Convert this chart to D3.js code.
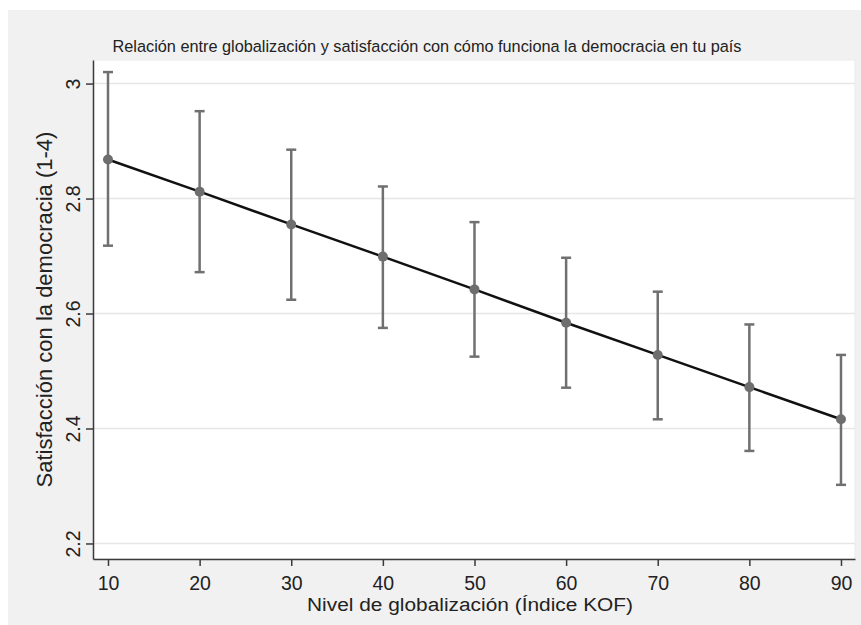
<!DOCTYPE html>
<html>
<head>
<meta charset="utf-8">
<script src="https://cdn.jsdelivr.net/npm/d3@7"></script>
<style>
  body { margin: 0; background: #ffffff; }
  text { font-family: "Liberation Sans", Arial, sans-serif; }
</style>
</head>
<body>
<div id="chart"></div>
<script>
// values
let kof = [10, 20, 30, 40, 50, 60, 70, 80, 90];
let meanSat = [2.868, 2.812, 2.755, 2.699, 2.642, 2.584, 2.528, 2.472, 2.416];
let upperSat = [3.020, 2.952, 2.885, 2.821, 2.759, 2.697, 2.638, 2.581, 2.528];
let lowerSat = [2.718, 2.672, 2.624, 2.575, 2.525, 2.471, 2.416, 2.361, 2.302];
let xTicks = [10, 20, 30, 40, 50, 60, 70, 80, 90];
let yTicks = [2.2, 2.4, 2.6, 2.8, 3];

let width = 861, height = 625;
let plot = { left: 93, right: 855, top: 60, bottom: 559 };

let svg = d3.select("#chart")
    .append("svg")
    .attr("width", width)
    .attr("height", height);

// graph region (grey) and plot region (white)
svg.append("rect")
    .attr("x", 8).attr("y", 10)
    .attr("width", width - 8).attr("height", height - 10)
    .attr("fill", "#f1f1f1");

svg.append("rect")
    .attr("x", plot.left).attr("y", plot.top)
    .attr("width", plot.right - plot.left).attr("height", plot.bottom - plot.top)
    .attr("fill", "#ffffff")
    .attr("stroke", "#ebebeb");

let x = d3.scaleLinear()
    .domain([8.363, 91.53])
    .range([plot.left, plot.right]);

let y = d3.scaleLinear()
    .domain([2.173, 3.041])
    .range([plot.bottom, plot.top]);

// gridlines
svg.append("g").selectAll("line").data(yTicks)
    .enter()
    .append("line")
    .attr("x1", plot.left)
    .attr("x2", plot.right)
    .attr("y1", function(d) { return y(d); })
    .attr("y2", function(d) { return y(d); })
    .attr("stroke", "#e6e6e6")
    .attr("stroke-width", 1.5);

// axes
let xAxis = svg.append("g")
    .attr("transform", `translate(0, ${plot.bottom})`)
    .call(d3.axisBottom(x).tickValues(xTicks).tickSize(7).tickPadding(10).tickSizeOuter(0));

let yAxis = svg.append("g")
    .attr("transform", `translate(${plot.left}, 0)`)
    .call(d3.axisLeft(y).tickValues(yTicks).tickSize(7).tickSizeOuter(0)
        .tickFormat(function(d) { return d3.format("")(d); }));

[xAxis, yAxis].forEach(function(ax) {
    ax.select(".domain").attr("stroke", "#3a3a3a").attr("stroke-width", 1.5);
    ax.selectAll(".tick line").attr("stroke", "#3a3a3a").attr("stroke-width", 1.5);
    ax.selectAll("text")
        .attr("fill", "#222")
        .style("font-size", "19.5px")
        .style("font-family", "'Liberation Sans', Arial, sans-serif");
});

// rotate y tick labels like the original
yAxis.selectAll(".tick text")
    .attr("x", null).attr("dy", null)
    .attr("text-anchor", "middle")
    .attr("transform", "translate(-13, 0) rotate(-90)");

// error bars
let bars = svg.append("g");
let capW = 5;
kof.forEach(function(k, i) {
    bars.append("line")
        .attr("x1", x(k)).attr("x2", x(k))
        .attr("y1", y(upperSat[i])).attr("y2", y(lowerSat[i]))
        .attr("stroke", "#707070").attr("stroke-width", 2.5);
    [upperSat[i], lowerSat[i]].forEach(function(v) {
        bars.append("line")
            .attr("x1", x(k) - capW).attr("x2", x(k) + capW)
            .attr("y1", y(v)).attr("y2", y(v))
            .attr("stroke", "#707070").attr("stroke-width", 2.5);
    });
});

// fitted line
let line = d3.line()
    .x(function(d, i) { return x(kof[i]); })
    .y(function(d) { return y(d); });

svg.append("path")
    .datum(meanSat)
    .attr("d", line)
    .attr("fill", "none")
    .attr("stroke", "#111")
    .attr("stroke-width", 2.5);

svg.append("g").selectAll("circle").data(meanSat)
    .enter()
    .append("circle")
    .attr("cx", function(d, i) { return x(kof[i]); })
    .attr("cy", function(d) { return y(d); })
    .attr("r", 5)
    .attr("fill", "#6e6e6e");

// titles
svg.append("text")
    .attr("x", 427)
    .attr("y", 52)
    .attr("text-anchor", "middle")
    .style("font-size", "16.3px")
    .attr("fill", "#222")
    .text("Relación entre globalización y satisfacción con cómo funciona la democracia en tu país");

// x title is wide but short in the original, so stretch it
svg.append("text")
    .attr("x", 470)
    .attr("y", 611)
    .attr("text-anchor", "middle")
    .attr("textLength", 326)
    .attr("lengthAdjust", "spacingAndGlyphs")
    .style("font-size", "18px")
    .attr("fill", "#222")
    .text("Nivel de globalización (Índice KOF)");

svg.append("text")
    .attr("transform", `translate(52, ${(plot.top + plot.bottom) / 2 + 0}) rotate(-90)`)
    .attr("text-anchor", "middle")
    .style("font-size", "22px")
    .attr("fill", "#222")
    .text("Satisfacción con la democracia (1-4)");
</script>
</body>
</html>
